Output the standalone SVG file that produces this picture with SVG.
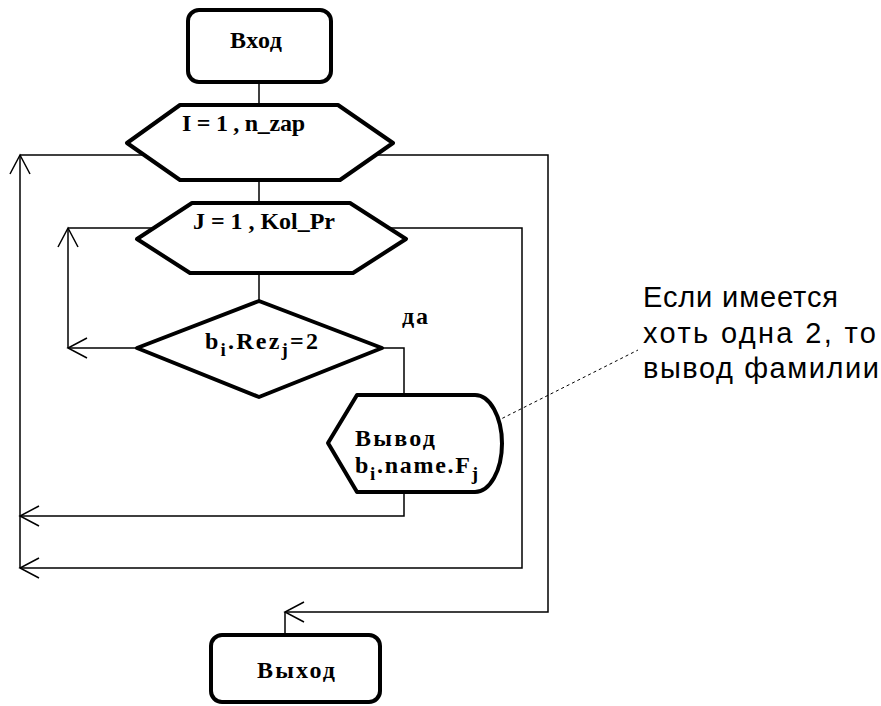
<svg xmlns="http://www.w3.org/2000/svg" width="881" height="706" viewBox="0 0 881 706">
  <style>
    .shape { fill: #ffffff; stroke: #000000; stroke-width: 4; stroke-linejoin: round; }
    .wire { fill: none; stroke: #000000; stroke-width: 1.5; }
    .lbl { font-family: "Liberation Serif", "Times New Roman", serif; font-weight: bold; font-size: 24px; fill: #000000; }
    .sub { font-size: 19px; }
    .note { font-family: "Liberation Sans", Arial, sans-serif; font-size: 29px; fill: #000000; }
    .callout { fill: none; stroke: #000000; stroke-width: 1; stroke-dasharray: 3 3; }
  </style>
  <defs>
    <marker id="arrow" markerUnits="userSpaceOnUse" markerWidth="24" markerHeight="24" viewBox="-20 -12 24 24" refX="0" refY="0" orient="auto" overflow="visible">
      <path d="M-19,-10 L0,0 L-19,10" fill="none" stroke="#000000" stroke-width="1.5"/>
    </marker>
  </defs>
  <rect width="881" height="706" fill="#ffffff"/>

  <!-- connectors -->
  <g id="connectors">
    <path class="wire" d="M259,82 V105"/>
    <path class="wire" d="M259,180 V203"/>
    <path class="wire" d="M259,273 V301"/>
    <!-- "yes" branch to output -->
    <path class="wire" d="M382,348 H404 V395"/>
    <!-- output back to outer loop -->
    <path class="wire" d="M404,492 V516 H20" marker-end="url(#arrow)"/>
    <!-- inner loop (J) -->
    <path class="wire" d="M137,348 H68" marker-end="url(#arrow)"/>
    <path class="wire" d="M68,348 V228" marker-end="url(#arrow)"/>
    <path class="wire" d="M68,228 H154"/>
    <path class="wire" d="M389,228 H522 V568 H20" marker-end="url(#arrow)"/>
    <!-- outer loop (I) -->
    <path class="wire" d="M20,568 V155" marker-end="url(#arrow)"/>
    <path class="wire" d="M20,155 H144"/>
    <path class="wire" d="M376,155 H548 V612 H285" marker-end="url(#arrow)"/>
    <path class="wire" d="M285,612 V635"/>
    <!-- comment leader -->
    <path class="callout" d="M497,421 L638,350"/>
  </g>

  <g id="start">
    <rect class="shape" x="188" y="10" width="143" height="72" rx="11"/>
    <text class="lbl" x="230" y="48" textLength="52" lengthAdjust="spacing">Вход</text>
  </g>

  <g id="loop-i">
    <polygon class="shape" points="127,143 180,105 338,105 393,143 340,180 180,180"/>
    <text class="lbl" x="182" y="131" textLength="123" lengthAdjust="spacing">I = 1 , n_zap</text>
  </g>

  <g id="loop-j">
    <polygon class="shape" points="137,239 192,203 350,203 406,239 353,273 190,273"/>
    <text class="lbl" x="193" y="229" textLength="142" lengthAdjust="spacing">J = 1 , Kol_Pr</text>
  </g>

  <g id="check">
    <polygon class="shape" points="259,301 382,348 259,397 137,348"/>
    <text class="lbl" x="205" y="349" textLength="113" lengthAdjust="spacing">b<tspan class="sub" dy="7">i</tspan><tspan dy="-7">.Rez</tspan><tspan class="sub" dy="7">j</tspan><tspan dy="-7">=2</tspan></text>
    <text class="lbl" x="402" y="324" textLength="26" lengthAdjust="spacing">да</text>
  </g>

  <g id="output">
    <path class="shape" d="M357,395 H475 A27,48.5 0 0 1 475,492 H357 L328,443 Z"/>
    <text class="lbl" x="355" y="446" textLength="80" lengthAdjust="spacing">Вывод</text>
    <text class="lbl" x="355" y="473" textLength="123" lengthAdjust="spacing">b<tspan class="sub" dy="7">i</tspan><tspan dy="-7">.name.F</tspan><tspan class="sub" dy="7">j</tspan></text>
  </g>

  <g id="finish">
    <rect class="shape" x="211" y="635" width="169" height="67" rx="11"/>
    <text class="lbl" x="257" y="678" textLength="78" lengthAdjust="spacing">Выход</text>
  </g>

  <g id="comment">
    <text class="note" x="643" y="307" textLength="195" lengthAdjust="spacing">Если имеется</text>
    <text class="note" x="643" y="343" textLength="233" lengthAdjust="spacing">хоть одна 2, то</text>
    <text class="note" x="643" y="378" textLength="236" lengthAdjust="spacing">вывод фамилии</text>
  </g>
</svg>
